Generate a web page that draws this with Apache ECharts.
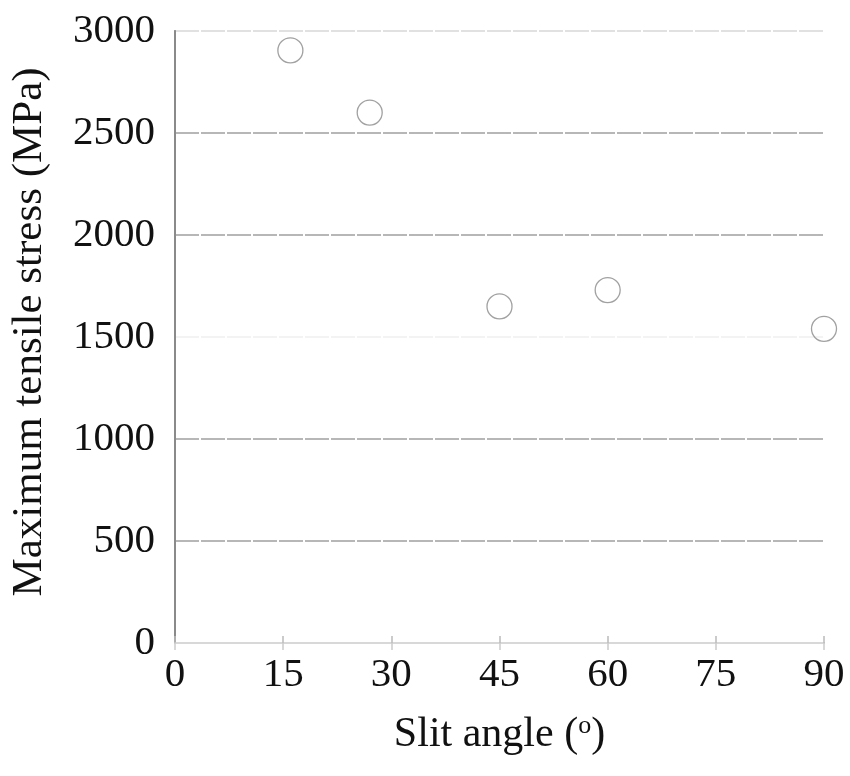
<!DOCTYPE html>
<html>
<head>
<meta charset="utf-8">
<script src="https://cdn.jsdelivr.net/npm/echarts@6/dist/echarts.min.js"></script>
<style>
  html, body { margin: 0; padding: 0; background: #fff; }
  #chart { width: 850px; height: 776px; }
</style>
</head>
<body>
<div id="chart"></div>
<script>
// Slit angle (degrees) and the measured maximum tensile stress (MPa)
const slitAngles = [16, 27, 45, 60, 90];
const maxStress = [2905, 2600, 1650, 1730, 1540];
const xTicks = [0, 15, 30, 45, 60, 75, 90];
const yTicks = [0, 500, 1000, 1500, 2000, 2500, 3000];

const FONT = '"Liberation Serif", "Times New Roman", serif';
const points = slitAngles.map((a, i) => [a, maxStress[i]]);
const plain = v => String(v);

const chart = echarts.init(document.getElementById('chart'), null, { renderer: 'canvas' });

chart.setOption({
  animation: false,
  backgroundColor: '#fff',
  grid: { left: 171, right: 26, top: 31, bottom: 133, containLabel: false },
  xAxis: [{
    type: 'value',
    min: xTicks[0],
    max: xTicks[xTicks.length - 1],
    interval: 15,
    name: 'Slit angle ({sup|o})',
    nameLocation: 'middle',
    nameGap: 70,
    nameTextStyle: {
      fontFamily: FONT, fontSize: 42, color: '#111',
      rich: { sup: { fontFamily: FONT, fontSize: 26, color: '#111', verticalAlign: 'top', padding: [0, 0, 18, 0] } }
    },
    axisLine: { show: true, lineStyle: { color: '#9a9a9a', width: 2 } },
    axisTick: { show: true, inside: true, length: 7, lineStyle: { color: '#bbb', width: 1.5 } },
    axisLabel: { fontFamily: FONT, fontSize: 41, color: '#111', margin: 12, formatter: plain },
    splitLine: { show: false }
  }, {
    type: 'value',
    position: 'top',
    min: xTicks[0],
    max: xTicks[xTicks.length - 1],
    interval: 15,
    axisLine: { show: true, lineStyle: { color: '#d8d8d8', width: 2 } },
    axisTick: { show: true, inside: true, length: 7, lineStyle: { color: '#ccc', width: 1.5 } },
    axisLabel: { show: false },
    splitLine: { show: false }
  }],
  yAxis: [{
    type: 'value',
    min: yTicks[0],
    max: yTicks[yTicks.length - 1],
    interval: 500,
    name: 'Maximum tensile stress (MPa)',
    nameLocation: 'middle',
    nameGap: 124,
    nameTextStyle: { fontFamily: FONT, fontSize: 43, color: '#111', padding: [0, 0, 0, 10] },
    axisLine: { show: true, lineStyle: { color: '#b0b0b0', width: 2 } },
    axisTick: { show: false },
    axisLabel: { fontFamily: FONT, fontSize: 41, color: '#111', margin: 20, formatter: plain },
    splitLine: {
      show: true,
      lineStyle: {
        color: ['#a0a0a0', '#a0a0a0', '#a0a0a0', '#f0f0f0', '#a0a0a0', '#a0a0a0', '#d8d8d8'],
        width: 1.5,
        type: [24, 2],
        dashOffset: 0
      }
    }
  }, {
    type: 'value',
    position: 'right',
    min: yTicks[0],
    max: yTicks[yTicks.length - 1],
    interval: 500,
    axisLine: { show: true, lineStyle: { color: '#8a8a8a', width: 2 } },
    axisTick: { show: false },
    axisLabel: { show: false },
    splitLine: { show: false }
  }],
  series: [{
    type: 'scatter',
    xAxisIndex: 0,
    yAxisIndex: 0,
    data: points,
    symbol: 'circle',
    symbolSize: 25,
    clip: false,
    itemStyle: { color: 'rgba(255,255,255,0)', borderColor: '#8a8a8a', borderWidth: 1.3 },
    z: 5
  }]
});
</script>
</body>
</html>
